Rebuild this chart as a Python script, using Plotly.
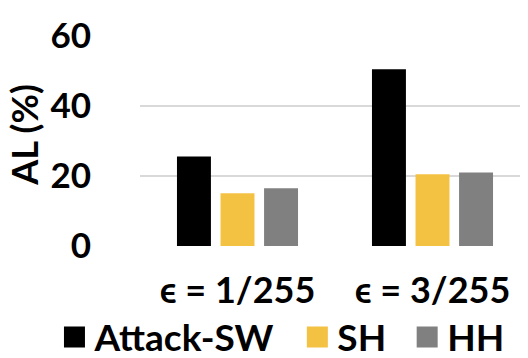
import plotly.graph_objects as go

categories = ["ϵ = 1/255", "ϵ = 3/255"]
attack_sw = [25.6, 50.5]
sh = [15.1, 20.5]
hh = [16.5, 21.0]
y_ticks = [0, 20, 40, 60]

FONT = "Lato"
series = [
    ("Attack-SW", attack_sw, "#000000"),
    ("SH", sh, "#F4C243"),
    ("HH", hh, "#808080"),
]
legend_ids = ["legend", "legend2", "legend3"]
legend_x = [0.088, 0.548, 0.756]

fig = go.Figure()
for name, vals, color in series:
    fig.add_trace(go.Bar(x=categories, y=vals, name=name,
                         marker=dict(color=color, line=dict(width=0)),
                         showlegend=False))
# one legend per item so they sit in a single row with bigger swatches
for (name, vals, color), lid in zip(series, legend_ids):
    fig.add_trace(go.Scatter(x=[None], y=[None], mode="markers", name=name,
                             legend=lid,
                             marker=dict(symbol="square", size=16, color=color,
                                         line=dict(color=color, width=5))))

fig.update_layout(
    width=528, height=358,
    margin=dict(l=132, r=6, t=28, b=120),
    paper_bgcolor="white", plot_bgcolor="white",
    font=dict(family=FONT, size=35, color="black", weight="bold"),
    barmode="group", bargap=0.33, bargroupgap=0.22,
)
for lid, lx in zip(legend_ids, legend_x):
    fig.update_layout({lid: dict(orientation="h", xref="container", yref="container",
                                 x=lx, xanchor="left", y=0.08, yanchor="middle",
                                 font=dict(size=37), itemsizing="trace",
                                 bgcolor="rgba(0,0,0,0)")})
# axis title placed by hand, as in the original it sits a bit above centre
fig.add_annotation(text="AL (%)", xref="paper", yref="paper", x=-0.297, y=0.53,
                   xanchor="center", yanchor="middle", textangle=-90,
                   showarrow=False, font=dict(size=36))
fig.update_yaxes(range=[0, 60], tickvals=y_ticks, showgrid=True,
                 gridcolor="#D9D9D9", gridwidth=2, zeroline=False,
                 showline=False, ticklabelstandoff=48, automargin=False)
fig.update_xaxes(showline=False, ticks="", ticklabelstandoff=20,
                 automargin=False, tickfont=dict(size=36))

fig.write_html("out.html")
